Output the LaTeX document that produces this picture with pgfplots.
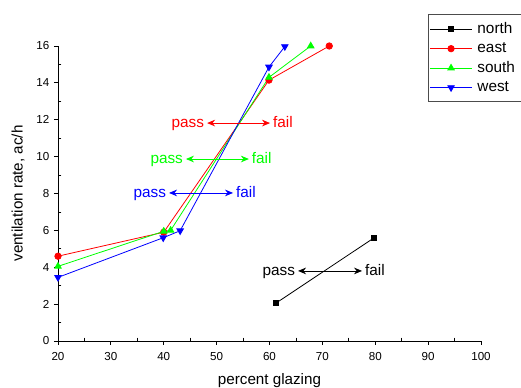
\documentclass[border=0pt]{standalone}
\usepackage{fontspec}
\setmainfont{Liberation Sans}
\usepackage{pgfplots}
\pgfplotsset{compat=1.18}
\usetikzlibrary{arrows.meta}
\begin{document}
\begin{tikzpicture}
\path[use as bounding box] (-43.5pt,-35.25pt) rectangle (347.25pt,255.75pt);
\begin{axis}[
  scale only axis,
  width=317.25pt, height=221.25pt,
  xmin=20, xmax=100, ymin=0, ymax=16,
  xtick={20,30,...,100}, ytick={0,2,...,16},
  minor x tick num=1, minor y tick num=1,
  axis lines=left,
  axis line style={-, line width=0.6pt},
  tick align=outside,
  major tick length=3pt,
  minor tick length=-2.5pt,
  tick style={black, line width=0.6pt},
  /pgf/number format/assume math mode=true,
  ticklabel style={font=\fontsize{8.7}{10}\selectfont},
  xticklabel style={yshift=-2pt},
  label style={font=\fontsize{11.4}{13}\selectfont},
  xlabel={percent glazing},
  xlabel style={yshift=-3pt},
  ylabel={ventilation rate, ac/h},
  ylabel style={yshift=2pt},
  clip=false,
  legend cell align=left,
  legend style={at={(0.875,1.108)}, anchor=north west, draw=black!70, line width=0.8pt,
    font=\fontsize{11.5}{13}\selectfont, inner xsep=1pt, inner ysep=4pt,
    row sep=1.2pt,
    nodes={inner xsep=4pt}},
  legend image code/.code={\draw[mark repeat=2,mark phase=2,line width=0.6pt] plot coordinates {(-3pt,0pt) (12.5pt,0pt) (28pt,0pt)};},
  every axis plot/.append style={line width=0.6pt, mark size=2.4pt},
]
\addplot[black, mark=square*, mark size=2pt] coordinates {(61.2,2.05) (79.8,5.6)};
\addlegendentry{north}
\addplot[red, mark=*] coordinates {(20,4.6) (40,5.9) (59.9,14.15) (71.3,16)};
\addlegendentry{east}
\addplot[green, mark=triangle*, mark size=2.8pt] coordinates {(20,4.05) (40,5.95) (41.3,6.0) (59.9,14.3) (67.8,16)};
\addlegendentry{south}
\addplot[blue, mark=triangle*, mark options={rotate=180}, mark size=2.8pt] coordinates {(20,3.45) (39.9,5.6) (43.1,5.98) (59.9,14.86) (62.9,15.97)};
\addlegendentry{west}

\begin{scope}[font=\fontsize{11.5}{13}\selectfont, line width=0.6pt, >={Stealth[length=6pt,width=5pt]},
  pl/.style={anchor=base east,inner sep=2pt,yshift=-3.6pt},
  fl/.style={anchor=base west,inner sep=2pt,yshift=-3.6pt}]
\draw[red,<->] (axis cs:48.2,11.82) -- (axis cs:60.1,11.82);
\node[red,pl] at (axis cs:48.2,11.82) {pass};
\node[red,fl] at (axis cs:60.1,11.82) {fail};
\draw[green,<->] (axis cs:44.2,9.87) -- (axis cs:56.1,9.87);
\node[green,pl] at (axis cs:44.2,9.87) {pass};
\node[green,fl] at (axis cs:56.1,9.87) {fail};
\draw[blue,<->] (axis cs:41.0,8.03) -- (axis cs:53.1,8.03);
\node[blue,pl] at (axis cs:41.0,8.03) {pass};
\node[blue,fl] at (axis cs:53.1,8.03) {fail};
\draw[black,<->] (axis cs:65.4,3.8) -- (axis cs:77.5,3.8);
\node[black,pl] at (axis cs:65.4,3.8) {pass};
\node[black,fl] at (axis cs:77.5,3.8) {fail};
\end{scope}
\end{axis}
\end{tikzpicture}
\end{document}
